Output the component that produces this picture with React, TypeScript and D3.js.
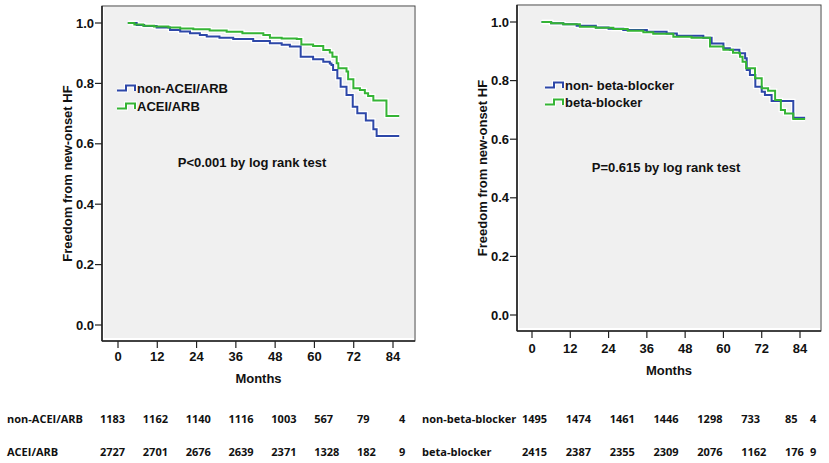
import * as d3 from 'd3'
import React from 'react'

type Pt = [number, number]

// months on the x axis, survival fraction on the y axis
const monthTicks = [0, 12, 24, 36, 48, 60, 72, 84]
const survivalTicks = [0, 0.2, 0.4, 0.6, 0.8, 1.0]

// Kaplan-Meier step points: [month, survival]
const nonAceiArb: Pt[] = [
  [3, 1.0], [5.7, 0.993], [8, 0.99], [11.8, 0.985], [15.9, 0.977], [19, 0.972], [22, 0.966],
  [25, 0.96], [27.1, 0.955], [31, 0.951], [35.2, 0.947], [41.3, 0.94], [46.4, 0.933], [50, 0.928],
  [52.5, 0.922], [55.8, 0.888], [59.6, 0.88], [62.7, 0.872], [64.7, 0.866], [65.2, 0.861],
  [65.7, 0.844], [67, 0.817], [68, 0.789], [69.8, 0.762], [71.7, 0.723], [73.1, 0.701],
  [75.7, 0.677], [78, 0.648], [79, 0.626], [85.9, 0.626],
]
const aceiArb: Pt[] = [
  [3, 1.0], [5, 0.995], [7.7, 0.991], [11, 0.988], [15.4, 0.985], [19, 0.982], [23, 0.979],
  [28, 0.975], [33.2, 0.971], [38, 0.966], [44.4, 0.96], [46.4, 0.951], [50, 0.949], [54.6, 0.947],
  [56, 0.929], [59.6, 0.924], [62.7, 0.911], [64.7, 0.902], [65.5, 0.888], [66.8, 0.867],
  [67.3, 0.85], [69.8, 0.839], [70.3, 0.814], [71.9, 0.784], [73.9, 0.778], [75.4, 0.767],
  [76.4, 0.758], [78, 0.743], [82, 0.692], [85.9, 0.692],
]
const nonBetaBlocker: Pt[] = [
  [3, 1.0], [6, 0.996], [9.8, 0.992], [14, 0.987], [20, 0.981], [24, 0.977], [28.6, 0.973],
  [36, 0.967], [42.2, 0.961], [45.4, 0.953], [53.7, 0.946], [56.3, 0.927], [60, 0.91], [62, 0.905],
  [65, 0.893], [66.8, 0.876], [67.3, 0.836], [68.3, 0.819], [70, 0.779], [72, 0.762], [73, 0.751],
  [75.1, 0.73], [81.9, 0.673], [85.6, 0.673],
]
const betaBlocker: Pt[] = [
  [3, 1.0], [6, 0.996], [9.8, 0.992], [15, 0.984], [20, 0.98], [25.5, 0.976], [30, 0.97],
  [34.9, 0.965], [38, 0.96], [44.3, 0.95], [50, 0.946], [55.8, 0.916], [60, 0.905], [63, 0.895],
  [65.2, 0.881], [66, 0.864], [67.1, 0.842], [69.9, 0.808], [72, 0.774], [74, 0.765], [76.2, 0.734],
  [78, 0.7], [79.3, 0.688], [81.9, 0.669], [85.6, 0.669],
]

// numbers at risk
const riskNonAcei = [1183, 1162, 1140, 1116, 1003, 567, 79, 4]
const riskAcei = [2727, 2701, 2676, 2639, 2371, 1328, 182, 9]
const riskNonBeta = [1495, 1474, 1461, 1446, 1298, 733, 85, 4]
const riskBeta = [2415, 2387, 2355, 2309, 2076, 1162, 176, 9]

const BLUE = '#2d47a8'
const GREEN = '#35b435'
const FONT = 'Liberation Sans, Arial, sans-serif'
const TABLE_FONT = 'Open Sans, sans-serif'

type Layout = {
  left: number
  right: number
  top: number
  bottom: number
  x: [number, number]
  y: [number, number]
  yLabelX: number
  xLabelY: number
  monthsY: number
  legendX: number
  legendY: [number, number]
  pX: number
  pY: number
}

type Series = { name: string; data: Pt[]; color: string }

const Panel = ({ L, series, pText }: { L: Layout; series: Series[]; pText: string }) => {
  const x = d3.scaleLinear().domain([0, 84]).range(L.x)
  const y = d3.scaleLinear().domain([0, 1]).range(L.y)
  const line = d3
    .line<Pt>()
    .x((d) => x(d[0]))
    .y((d) => y(d[1]))
    .curve(d3.curveStepAfter)
  const midY = (L.top + L.bottom) / 2
  const midX = (L.left + L.right) / 2

  return (
    <g fontFamily={FONT} fontWeight="bold" fontSize={13} fill="#111">
      <rect x={L.left} y={L.top} width={L.right - L.left} height={L.bottom - L.top} fill="#fff" stroke="#444" strokeWidth={1} />
      <rect x={L.left + 2} y={L.top + 1} width={L.right - L.left - 3} height={L.bottom - L.top - 4} fill="#f0f0f0" />
      <line x1={L.left} x2={L.left} y1={L.top} y2={L.bottom} stroke="#222" strokeWidth={1.6} />
      <line x1={L.left} x2={L.right} y1={L.bottom} y2={L.bottom} stroke="#222" strokeWidth={1.6} />

      {survivalTicks.map((t) => (
        <g key={t}>
          <line x1={L.left - 7} x2={L.left} y1={y(t)} y2={y(t)} stroke="#222" strokeWidth={1.2} />
          <text x={L.left - 8} y={y(t)} textAnchor="end" dominantBaseline="central">
            {t.toFixed(1)}
          </text>
        </g>
      ))}
      {monthTicks.map((t) => (
        <g key={t}>
          <line x1={x(t)} x2={x(t)} y1={L.bottom} y2={L.bottom + 7} stroke="#222" strokeWidth={1.2} />
          <text x={x(t)} y={L.xLabelY} textAnchor="middle" dominantBaseline="central">
            {t}
          </text>
        </g>
      ))}
      <text x={midX} y={L.monthsY} textAnchor="middle" dominantBaseline="central">
        Months
      </text>
      <text
        transform={`translate(${L.yLabelX},${midY}) rotate(-90)`}
        textAnchor="middle"
        dominantBaseline="central"
      >
        Freedom from new-onset HF
      </text>

      {series.map((s) => (
        <path key={s.name + 'h'} d={line(s.data) ?? ''} fill="none" stroke="#fff" strokeWidth={4.5} />
      ))}
      {series.map((s) => (
        <path key={s.name} d={line(s.data) ?? ''} fill="none" stroke={s.color} strokeWidth={2} />
      ))}

      {series.map((s, i) => {
        const ly = L.legendY[i]
        const lx = L.legendX
        return (
          <g key={s.name + 'lg'}>
            <path
              d={`M${lx},${ly + 2.5} H${lx + 9} V${ly - 2.5} H${lx + 18} V${ly + 3}`}
              fill="none"
              stroke="#fff"
              strokeWidth={4}
            />
            <path
              d={`M${lx},${ly + 2.5} H${lx + 9} V${ly - 2.5} H${lx + 18} V${ly + 3}`}
              fill="none"
              stroke={s.color}
              strokeWidth={2}
            />
            <text x={lx + 20} y={ly} dominantBaseline="central">
              {s.name}
            </text>
          </g>
        )
      })}

      <text x={L.pX} y={L.pY} textAnchor="middle" dominantBaseline="central">
        {pText}
      </text>
    </g>
  )
}

const RiskTable = ({
  labelX,
  cols,
  rows,
}: {
  labelX: number
  cols: d3.ScaleLinear<number, number>
  rows: { label: string; values: number[]; y: number }[]
}) => (
  <g fontFamily={TABLE_FONT} fontWeight="bold" fontSize={11} fill="#111">
    {rows.map((r) => (
      <g key={r.label}>
        <text x={labelX} y={r.y} dominantBaseline="central">
          {r.label}
        </text>
        {r.values.map((v, i) => (
          <text key={i} x={cols(i)} y={r.y} dominantBaseline="central">
            {v}
          </text>
        ))}
      </g>
    ))}
  </g>
)

const leftLayout: Layout = {
  left: 102,
  right: 415,
  top: 6,
  bottom: 341,
  x: [118, 393],
  y: [325, 23],
  yLabelX: 67,
  xLabelY: 356,
  monthsY: 378,
  legendX: 117,
  legendY: [88, 106],
  pX: 252,
  pY: 162,
}

const rightLayout: Layout = {
  left: 517,
  right: 821,
  top: 5,
  bottom: 331,
  x: [532, 800],
  y: [315, 22],
  yLabelX: 482,
  xLabelY: 348,
  monthsY: 370,
  legendX: 545,
  legendY: [85, 102],
  pX: 666,
  pY: 167,
}

export default function App() {
  const leftCols = d3.scaleLinear().domain([0, 6, 7]).range([100, 357, 399])
  const rightCols = d3.scaleLinear().domain([0, 6, 7]).range([522, 785, 810])

  return (
    <svg width={829} height={463} style={{ position: 'absolute', left: 0, top: 0, background: '#fff' }}>
      <Panel
        L={leftLayout}
        series={[
          { name: 'non-ACEI/ARB', data: nonAceiArb, color: BLUE },
          { name: 'ACEI/ARB', data: aceiArb, color: GREEN },
        ]}
        pText="P<0.001 by log rank test"
      />
      <Panel
        L={rightLayout}
        series={[
          { name: 'non- beta-blocker', data: nonBetaBlocker, color: BLUE },
          { name: 'beta-blocker', data: betaBlocker, color: GREEN },
        ]}
        pText="P=0.615 by log rank test"
      />
      <RiskTable
        labelX={7}
        cols={leftCols}
        rows={[
          { label: 'non-ACEI/ARB', values: riskNonAcei, y: 418 },
          { label: 'ACEI/ARB', values: riskAcei, y: 451 },
        ]}
      />
      <RiskTable
        labelX={422}
        cols={rightCols}
        rows={[
          { label: 'non-beta-blocker', values: riskNonBeta, y: 418 },
          { label: 'beta-blocker', values: riskBeta, y: 451 },
        ]}
      />
    </svg>
  )
}
